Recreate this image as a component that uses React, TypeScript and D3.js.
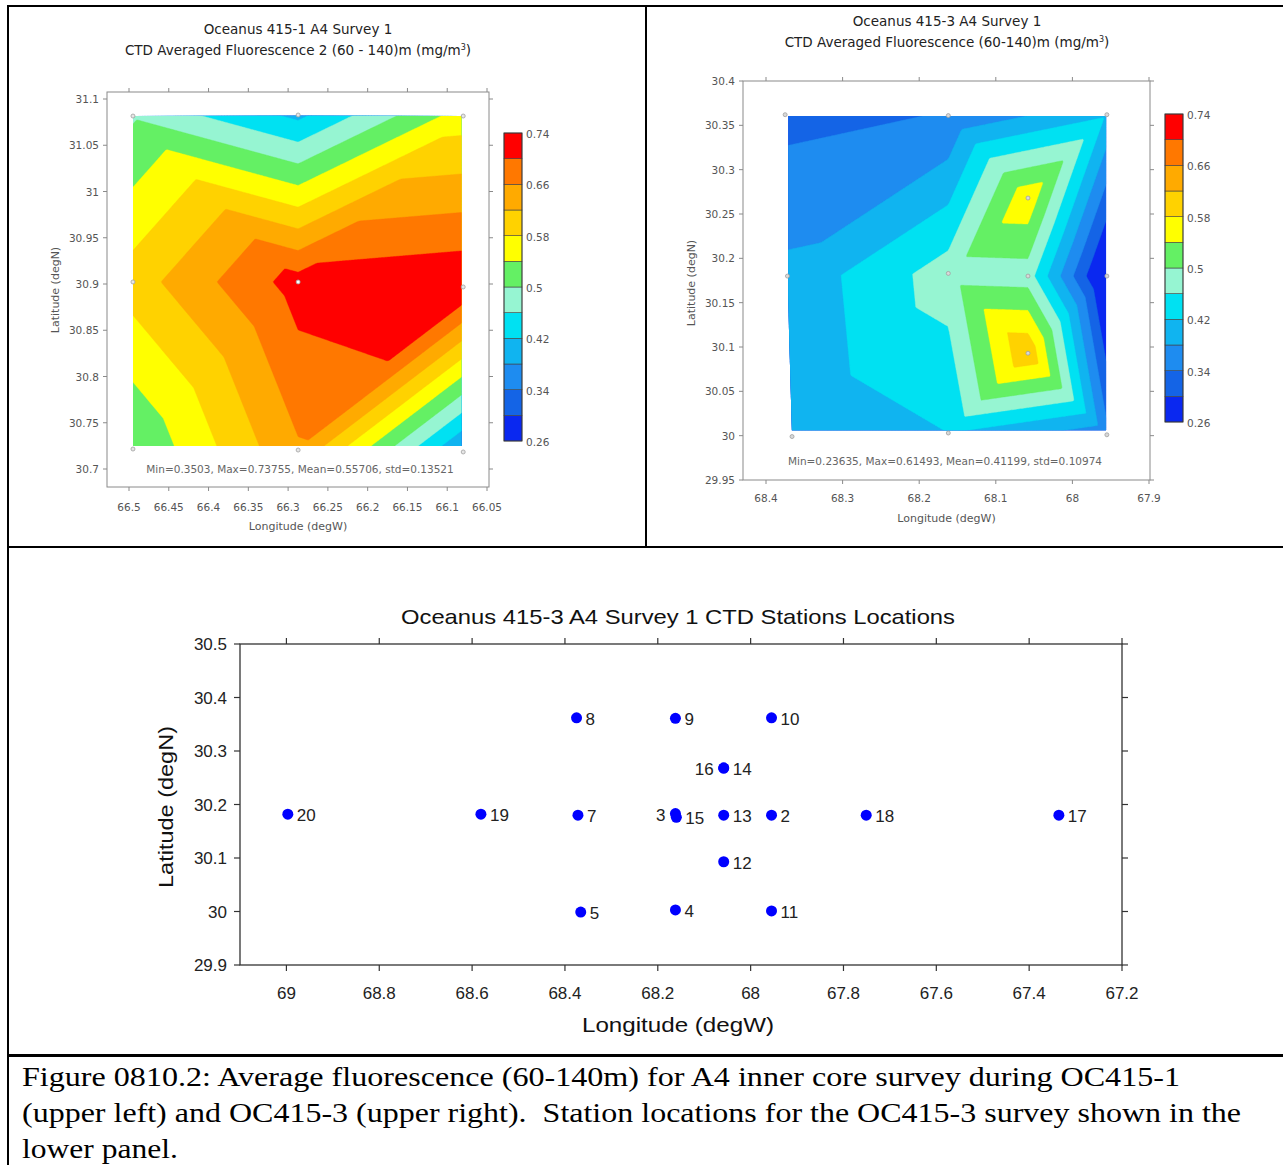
import React from 'react';
import * as d3 from 'd3';

// ---------- colour levels (mg/m^3) ----------
const LEVELS = [0.26, 0.30, 0.34, 0.38, 0.42, 0.46, 0.50, 0.54, 0.58, 0.62, 0.66, 0.70, 0.74];
const BAND_COLORS = ['#0a28f0', '#1464e6', '#1e8cf0', '#10b4f0', '#00e1f2', '#96f5d2', '#64f064', '#ffff00', '#ffd200', '#ffaa00', '#ff7800', '#ff0000'];
const COLORBAR_TICKS = [0.26, 0.34, 0.42, 0.5, 0.58, 0.66, 0.74];

// ---------- OC415-1 survey (upper left) ----------
const OC1_LON = [66.495, 66.2874, 66.0799, 66.495, 66.2874, 66.0799, 66.495, 66.2874, 66.0799];
const OC1_LAT = [31.0816, 31.0827, 31.0816, 30.9022, 30.9022, 30.8968, 30.7216, 30.7205, 30.7184];
const OC1_FLUOR = [0.495, 0.41, 0.56, 0.60, 0.718, 0.7376, 0.50, 0.655, 0.37];
const OC1_TRIANGLES = [[0, 1, 4], [0, 4, 3], [1, 2, 4], [2, 5, 4], [3, 4, 6], [4, 7, 6], [4, 5, 7], [5, 8, 7]];
const OC1_X_TICKS = [66.5, 66.45, 66.4, 66.35, 66.3, 66.25, 66.2, 66.15, 66.1, 66.05];
const OC1_Y_TICKS = [30.7, 30.75, 30.8, 30.85, 30.9, 30.95, 31, 31.05, 31.1];
const OC1_STATS = 'Min=0.3503, Max=0.73755, Mean=0.55706, std=0.13521';

// ---------- OC415-3 stations (lower panel) ----------
const STATION_IDS = ['2', '3', '4', '5', '7', '8', '9', '10', '11', '12', '13', '14', '15', '16', '17', '18', '19', '20'];
const STATION_LON = [67.955, 68.162, 68.162, 68.366, 68.372, 68.375, 68.162, 67.955, 67.955, 68.058, 68.058, 68.058, 68.160, 68.058, 67.336, 67.751, 68.581, 68.997];
const STATION_LAT = [30.180, 30.183, 30.003, 29.999, 30.180, 30.362, 30.361, 30.362, 30.001, 30.093, 30.180, 30.268, 30.176, 30.268, 30.180, 30.180, 30.182, 30.182];
const LABEL_LEFT = ['3', '16'];
const ST_X_TICKS = [69, 68.8, 68.6, 68.4, 68.2, 68, 67.8, 67.6, 67.4, 67.2];
const ST_Y_TICKS = [29.9, 30, 30.1, 30.2, 30.3, 30.4, 30.5];

// ---------- OC415-3 fluorescence map (upper right) ----------
const OC3_MAP_STATIONS = ['8', '9', '10', '7', '3', '13', '2', '5', '4', '11', '14', '12'];
const OC3_FLUOR = [0.328, 0.342, 0.415, 0.39, 0.48, 0.48, 0.2364, 0.384, 0.42, 0.35, 0.57, 0.6149];
const OC3_TRIANGLES = [[0, 1, 3], [1, 4, 3], [1, 2, 10], [1, 10, 4], [2, 6, 10], [10, 6, 5], [10, 5, 4], [3, 4, 7], [4, 8, 7], [4, 5, 11], [5, 6, 11], [6, 9, 11], [11, 9, 8], [4, 11, 8]];
const OC3_X_TICKS = [68.4, 68.3, 68.2, 68.1, 68, 67.9];
const OC3_Y_TICKS = [29.95, 30, 30.05, 30.1, 30.15, 30.2, 30.25, 30.3, 30.35, 30.4];
const OC3_STATS = 'Min=0.23635, Max=0.61493, Mean=0.41199, std=0.10974';

const CAPTION = [
  'Figure 0810.2: Average fluorescence (60-140m) for A4 inner core survey during OC415-1',
  '(upper left) and OC415-3 (upper right).\u00a0 Station locations for the OC415-3 survey shown in the',
  'lower panel.',
];

const OC3_LON = OC3_MAP_STATIONS.map((id) => STATION_LON[STATION_IDS.indexOf(id)]);
const OC3_LAT = OC3_MAP_STATIONS.map((id) => STATION_LAT[STATION_IDS.indexOf(id)]);

function interpolateField(lons, lats, vals, tris, lonA, lonB, latA, latB, nx, ny) {
  const out = new Array(nx * ny);
  for (let j = 0; j < ny; j++) {
    const la = latA + ((latB - latA) * j) / (ny - 1);
    for (let i = 0; i < nx; i++) {
      const lo = lonA + ((lonB - lonA) * i) / (nx - 1);
      let best = -Infinity;
      let v = NaN;
      for (const [a, b, c] of tris) {
        const x1 = lons[a], y1 = lats[a], x2 = lons[b], y2 = lats[b], x3 = lons[c], y3 = lats[c];
        const det = (y2 - y3) * (x1 - x3) + (x3 - x2) * (y1 - y3);
        const l1 = ((y2 - y3) * (lo - x3) + (x3 - x2) * (la - y3)) / det;
        const l2 = ((y3 - y1) * (lo - x3) + (x1 - x3) * (la - y3)) / det;
        const l3 = 1 - l1 - l2;
        const m = Math.min(l1, l2, l3);
        if (m > best) {
          best = m;
          v = l1 * vals[a] + l2 * vals[b] + l3 * vals[c];
        }
      }
      out[j * nx + i] = v;
    }
  }
  return out;
}

const fmt = (v) => String(v);
const TOP_FONT = "'DejaVu Sans', Verdana, sans-serif";
const SANS = "'Liberation Sans', Arimo, Arial, Helvetica, 'Nimbus Sans', 'Nimbus Sans L', FreeSans, Roboto, sans-serif";
const SERIF = "'Liberation Serif', Tinos, 'Times New Roman', Times, 'Nimbus Roman', 'Nimbus Roman No9 L', FreeSerif, serif";
const TXT_GREY = '#555';

function ContourPanel({ cfg }) {
  const { id, lon, lat, vals, tris, xScale, yScale, frame, dataLon, dataLat, xTicks, yTicks, cb } = cfg;
  const [fx0, fy0, fx1, fy1] = frame;
  const nx = 220, ny = 220;
  const values = interpolateField(lon, lat, vals, tris, dataLon[0], dataLon[1], dataLat[0], dataLat[1], nx, ny);
  const thresholds = [-10, ...LEVELS.slice(1, 12)];
  const contours = d3.contours().size([nx, ny]).thresholds(thresholds)(values);
  const proj = d3.geoTransform({
    point(x, y) {
      const lo = dataLon[0] + ((x - 0.5) / (nx - 1)) * (dataLon[1] - dataLon[0]);
      const la = dataLat[0] + ((y - 0.5) / (ny - 1)) * (dataLat[1] - dataLat[0]);
      this.stream.point(xScale(lo), yScale(la));
    },
  });
  const path = d3.geoPath(proj);
  const rx0 = xScale(dataLon[0]), rx1 = xScale(dataLon[1]);
  const ry0 = yScale(dataLat[0]), ry1 = yScale(dataLat[1]);
  const hull = d3.polygonHull(lon.map((l, i) => [xScale(l), yScale(lat[i])]));
  const cbScale = d3.scaleLinear().domain([0.26, 0.74]).range([cb[3], cb[1]]);
  return (
    <g style={{ fontFamily: TOP_FONT }}>
      <defs>
        <clipPath id={`rect-${id}`}>
          <rect x={rx0} y={ry0} width={rx1 - rx0} height={ry1 - ry0} />
        </clipPath>
        <clipPath id={`hull-${id}`}>
          <path d={`M${hull.join('L')}Z`} />
        </clipPath>
      </defs>
      <g clipPath={`url(#rect-${id})`}>
        <g clipPath={`url(#hull-${id})`}>
          {contours.map((c, k) => (
            <path key={k} d={path(c)} fill={BAND_COLORS[k]} stroke={BAND_COLORS[k]} strokeWidth={0.4} />
          ))}
        </g>
      </g>
      {lon.map((l, i) => (
        <circle key={i} cx={xScale(l)} cy={yScale(lat[i])} r={2} fill={cfg.markerFill(i)} stroke="#a0a0a0" strokeWidth={0.8} />
      ))}
      <rect x={fx0} y={fy0} width={fx1 - fx0} height={fy1 - fy0} fill="none" stroke="#8a8a8a" strokeWidth={1} />
      {xTicks.map((t) => (
        <g key={`x${t}`}>
          <line x1={xScale(t)} x2={xScale(t)} y1={fy1} y2={fy1 + 4} stroke="#8a8a8a" />
          <line x1={xScale(t)} x2={xScale(t)} y1={fy0} y2={fy0 - 4} stroke="#8a8a8a" />
          <text x={xScale(t)} y={fy1 + cfg.xTickOffset} textAnchor="middle" fontSize={10.5} fill={TXT_GREY}>{fmt(t)}</text>
        </g>
      ))}
      {yTicks.map((t) => (
        <g key={`y${t}`}>
          <line x1={fx0 - 4} x2={fx0} y1={yScale(t)} y2={yScale(t)} stroke="#8a8a8a" />
          <line x1={fx1} x2={fx1 + 4} y1={yScale(t)} y2={yScale(t)} stroke="#8a8a8a" />
          <text x={fx0 - 8} y={yScale(t) + 4} textAnchor="end" fontSize={10.5} fill={TXT_GREY}>{fmt(t)}</text>
        </g>
      ))}
      <text x={cfg.titleX} y={cfg.title1Y} textAnchor="middle" fontSize={13.5} fill="#222">{cfg.title1}</text>
      <text x={cfg.titleX} y={cfg.title1Y + 21} textAnchor="middle" fontSize={13.5} fill="#222">
        <tspan>{cfg.title2}</tspan>
        <tspan dy={-5} fontSize={8}>3</tspan>
        <tspan dy={5}>)</tspan>
      </text>
      <text x={cfg.statsX} y={cfg.statsY} textAnchor="middle" fontSize={10.5} fill="#666">{cfg.stats}</text>
      <text x={(fx0 + fx1) / 2} y={cfg.xLabelY} textAnchor="middle" fontSize={11} fill={TXT_GREY}>Longitude (degW)</text>
      <text transform={`translate(${cfg.yLabelX},${cfg.yLabelY}) rotate(-90)`} textAnchor="middle" fontSize={11} fill={TXT_GREY}>Latitude (degN)</text>
      {BAND_COLORS.map((col, k) => (
        <rect key={k} x={cb[0]} y={cbScale(LEVELS[k + 1])} width={cb[2] - cb[0]} height={cbScale(LEVELS[k]) - cbScale(LEVELS[k + 1])} fill={col} stroke="#444" strokeWidth={0.6} />
      ))}
      <rect x={cb[0]} y={cb[1]} width={cb[2] - cb[0]} height={cb[3] - cb[1]} fill="none" stroke="#333" strokeWidth={0.8} />
      {COLORBAR_TICKS.map((t) => (
        <text key={t} x={cb[2] + 4} y={cbScale(t) + 5} fontSize={10.5} fill={TXT_GREY}>{fmt(t)}</text>
      ))}
    </g>
  );
}

function StationPanel() {
  const xs = d3.scaleLinear().domain([69.1, 67.2]).range([240, 1122]);
  const ys = d3.scaleLinear().domain([29.9, 30.5]).range([965, 644]);
  const [x0, x1] = xs.range();
  const [y1, y0] = ys.range();
  return (
    <g style={{ fontFamily: SANS }} fill="#111">
      <text x={678} y={624} textAnchor="middle" fontSize={21} textLength={554} lengthAdjust="spacingAndGlyphs">Oceanus 415-3 A4 Survey 1 CTD Stations Locations</text>
      <rect x={x0} y={y0} width={x1 - x0} height={y1 - y0} fill="none" stroke="#333" strokeWidth={1.3} />
      {ST_X_TICKS.map((t) => (
        <g key={`x${t}`}>
          <line x1={xs(t)} x2={xs(t)} y1={y1} y2={y1 + 6} stroke="#333" strokeWidth={1.2} />
          <line x1={xs(t)} x2={xs(t)} y1={y0} y2={y0 - 6} stroke="#333" strokeWidth={1.2} />
          <text x={xs(t)} y={y1 + 34} textAnchor="middle" fontSize={17} fill="#222">{fmt(t)}</text>
        </g>
      ))}
      {ST_Y_TICKS.map((t) => (
        <g key={`y${t}`}>
          <line x1={x0 - 6} x2={x0} y1={ys(t)} y2={ys(t)} stroke="#333" strokeWidth={1.2} />
          <line x1={x1} x2={x1 + 6} y1={ys(t)} y2={ys(t)} stroke="#333" strokeWidth={1.2} />
          <text x={x0 - 13} y={ys(t) + 6} textAnchor="end" fontSize={17} fill="#222">{fmt(t)}</text>
        </g>
      ))}
      <text x={678} y={1032} textAnchor="middle" fontSize={21} textLength={192} lengthAdjust="spacingAndGlyphs">Longitude (degW)</text>
      <text transform="translate(173,807) rotate(-90)" textAnchor="middle" fontSize={21} textLength={162} lengthAdjust="spacingAndGlyphs">Latitude (degN)</text>
      {STATION_IDS.map((id, i) => {
        const cx = xs(STATION_LON[i]);
        const cy = ys(STATION_LAT[i]);
        const left = LABEL_LEFT.includes(id);
        return (
          <g key={id}>
            <circle cx={cx} cy={cy} r={5.5} fill="#0000ff" />
            <text x={left ? cx - 10 : cx + 9} y={cy + 7} textAnchor={left ? 'end' : 'start'} fontSize={17} fill="#222">{id}</text>
          </g>
        );
      })}
    </g>
  );
}

const OC1_CFG = {
  id: 'oc1',
  lon: OC1_LON, lat: OC1_LAT, vals: OC1_FLUOR, tris: OC1_TRIANGLES,
  xScale: d3.scaleLinear().domain([66.5, 66.05]).range([129, 487]),
  yScale: d3.scaleLinear().domain([30.7, 31.1]).range([469, 99]),
  frame: [107, 92, 489, 487],
  dataLon: [66.495, 66.082], dataLat: [31.082, 30.725],
  xTicks: OC1_X_TICKS, yTicks: OC1_Y_TICKS,
  cb: [504, 133, 522, 441],
  title1: 'Oceanus 415-1 A4 Survey 1', title2: 'CTD Averaged Fluorescence 2 (60 - 140)m (mg/m',
  titleX: 298, title1Y: 34,
  stats: OC1_STATS, statsX: 300, statsY: 473,
  xTickOffset: 24, xLabelY: 530, yLabelX: 59, yLabelY: 290,
  markerFill: (i) => (i === 4 ? '#ffffff' : '#e6e6e6'),
};

const OC3_CFG = {
  id: 'oc3',
  lon: OC3_LON, lat: OC3_LAT, vals: OC3_FLUOR, tris: OC3_TRIANGLES,
  xScale: d3.scaleLinear().domain([68.4, 67.9]).range([766, 1149]),
  yScale: d3.scaleLinear().domain([29.95, 30.4]).range([480, 81]),
  frame: [743, 81, 1150, 480],
  dataLon: [68.371, 67.956], dataLat: [30.3605, 30.006],
  xTicks: OC3_X_TICKS, yTicks: OC3_Y_TICKS,
  cb: [1165, 114, 1183, 422],
  title1: 'Oceanus 415-3 A4 Survey 1', title2: 'CTD Averaged Fluorescence (60-140)m (mg/m',
  titleX: 947, title1Y: 26,
  stats: OC3_STATS, statsX: 945, statsY: 465,
  xTickOffset: 22, xLabelY: 522, yLabelX: 695, yLabelY: 283,
  markerFill: () => '#d8d8d8',
};

export default function App() {
  return (
    <div style={{ position: 'absolute', left: 0, top: 0 }}>
      <svg width={1283} height={1165} viewBox="0 0 1283 1165" style={{ display: 'block', background: '#fff' }}>
        <rect x={0} y={0} width={1283} height={1165} fill="#fff" />
        <ContourPanel cfg={OC1_CFG} />
        <ContourPanel cfg={OC3_CFG} />
        <StationPanel />
        {/* table borders */}
        <line x1={8} x2={8} y1={5} y2={1165} stroke="#000" strokeWidth={2} />
        <line x1={7} x2={1283} y1={6} y2={6} stroke="#000" strokeWidth={2} />
        <line x1={646} x2={646} y1={5} y2={547} stroke="#000" strokeWidth={2} />
        <line x1={7} x2={1283} y1={547} y2={547} stroke="#000" strokeWidth={2} />
        <line x1={7} x2={1283} y1={1055.5} y2={1055.5} stroke="#000" strokeWidth={3} />
        <g style={{ fontFamily: SERIF }} fontSize={28} fill="#000">
          <text x={22} y={1086} textLength={1158} lengthAdjust="spacingAndGlyphs">{CAPTION[0]}</text>
          <text x={22} y={1122} textLength={1219} lengthAdjust="spacingAndGlyphs">{CAPTION[1]}</text>
          <text x={22} y={1158} textLength={156} lengthAdjust="spacingAndGlyphs">{CAPTION[2]}</text>
        </g>
      </svg>
    </div>
  );
}
